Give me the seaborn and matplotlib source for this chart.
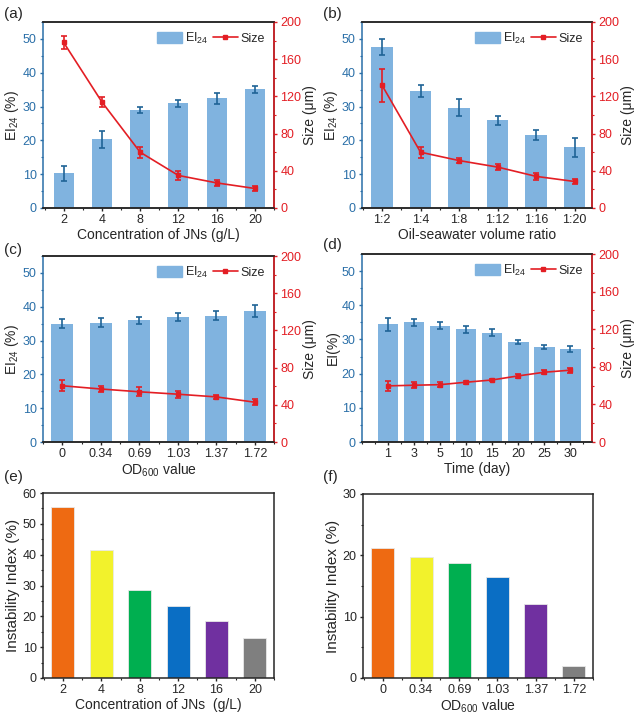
import numpy as np
import matplotlib
matplotlib.use("Agg")
import matplotlib.pyplot as plt
from matplotlib.ticker import MultipleLocator
from matplotlib.lines import Line2D
from matplotlib.patches import Patch
import seaborn as sns

# datos de cada panel
conc = ["2", "4", "8", "12", "16", "20"]
ei_conc = [10.3, 20.3, 29.0, 31.0, 32.4, 35.1]
ei_conc_err = [2.2, 2.6, 1.0, 1.0, 1.5, 1.1]
size_conc = [178, 114, 60, 35, 27, 21]
size_conc_err = [7, 5, 6, 5, 3, 3]

ratio = ["1:2", "1:4", "1:8", "1:12", "1:16", "1:20"]
ei_ratio = [47.6, 34.6, 29.7, 25.9, 21.7, 18.0]
ei_ratio_err = [2.3, 1.7, 2.5, 1.3, 1.5, 2.8]
size_ratio = [132, 60, 51, 44, 34, 28.5]
size_ratio_err = [17.5, 6, 3, 3, 3.5, 2.7]

od = ["0", "0.34", "0.69", "1.03", "1.37", "1.72"]
ei_od = [35.0, 35.3, 36.0, 37.0, 37.3, 38.7]
ei_od_err = [1.4, 1.4, 1.1, 1.2, 1.3, 1.7]
size_od = [60.5, 57, 54, 51.4, 48.5, 42.8]
size_od_err = [6, 3, 4.7, 3.6, 2, 3]

days = ["1", "3", "5", "10", "15", "20", "25", "30"]
ei_days = [34.4, 35.0, 34.0, 33.0, 32.0, 29.2, 27.7, 27.1]
ei_days_err = [1.8, 1.1, 1.0, 1.0, 1.0, 0.6, 0.6, 0.9]
size_days = [59.7, 60.4, 61.0, 63.6, 66.0, 70.3, 74.2, 76.4]
size_days_err = [5.7, 3, 3, 1.8, 1.4, 2.1, 2, 2.5]

inst_conc = [55.3, 41.4, 28.5, 23.3, 18.5, 13.0]
inst_od = [21.2, 19.8, 18.8, 16.4, 12.1, 2.0]
bar_colors = ["#EE6A12", "#F2F22C", "#00AF50", "#0A6EC4", "#7030A0", "#7F7F7F"]

sns.set_style("ticks")
plt.rcParams['font.family'] = ['Liberation Sans', 'DejaVu Sans']
plt.rcParams['mathtext.fontset'] = 'custom'
plt.rcParams['mathtext.rm'] = 'Liberation Sans'
plt.rcParams['mathtext.it'] = 'Liberation Sans:italic'
plt.rcParams['font.size'] = 8

BLUE_BAR = "#80B3DF"
BLUE = "#2A6FA8"
RED = "#E31E24"

fig = plt.figure(figsize=(6.38, 7.16), dpi=100)


def px_axes(l, r, t, b):
    return fig.add_axes([l / 638, 1 - b / 716, (r - l) / 638, (b - t) / 716])


def dual_panel(ax, cats, ei, ei_err, size, size_err, xlabel, ylabel, xlim, width):
    sns.barplot(x=cats, y=ei, color=BLUE_BAR, width=width, errorbar=None, ax=ax,
                linewidth=0, saturation=1)
    pos = np.arange(len(cats))
    ax.errorbar(pos, ei, yerr=ei_err, fmt='none', ecolor="#1F6396", elinewidth=1.2,
                capsize=2.2, capthick=1.2)
    ax.set_ylim(0, 55)
    ax.set_xlim(*xlim)
    ax.yaxis.set_major_locator(MultipleLocator(10))
    ax.yaxis.set_minor_locator(MultipleLocator(5))
    ax.xaxis.set_minor_locator(MultipleLocator(0.5))
    ax.tick_params(axis='y', which='both', colors=BLUE, labelsize=9, pad=2)
    ax.tick_params(axis='y', which='major', length=2.5, width=1)
    ax.tick_params(axis='y', which='minor', length=1.5, width=0.8)
    ax.tick_params(axis='x', which='major', length=2.5, width=1, labelsize=9, pad=2)
    ax.tick_params(axis='x', which='minor', length=1.5, width=0.8)
    ax.spines['left'].set_color(BLUE)
    for s in ax.spines.values():
        s.set_linewidth(1.1)
    ax.set_xlabel(xlabel, fontsize=10, labelpad=1)
    ax.set_ylabel(ylabel, fontsize=10, labelpad=1)

    ax2 = ax.twinx()
    ax2.errorbar(pos, size, yerr=size_err, color=RED, marker='s', markersize=3,
                 linewidth=1.2, elinewidth=1.2, capsize=2.2, capthick=1.2)
    ax2.set_ylim(0, 200)
    ax2.yaxis.set_major_locator(MultipleLocator(40))
    ax2.yaxis.set_minor_locator(MultipleLocator(20))
    ax2.tick_params(axis='y', which='both', colors=RED, labelsize=9, pad=2)
    ax2.tick_params(axis='y', which='major', length=2.5, width=1)
    ax2.tick_params(axis='y', which='minor', length=1.5, width=0.8)
    ax2.spines['right'].set_color(RED)
    ax2.spines['left'].set_visible(False)
    for s in ['right', 'top', 'bottom']:
        ax2.spines[s].set_linewidth(1.1)
    ax2.set_ylabel("Size (μm)", fontsize=10, labelpad=1)

    handles = [Patch(color=BLUE_BAR, label=r'EI$_{24}$'),
               Line2D([], [], color=RED, marker='s', markersize=2.5, lw=1.2, label='Size')]
    ax2.legend(handles=handles, loc='upper right', ncol=2, frameon=False, fontsize=9,
               handlelength=2.0, handleheight=1.0, columnspacing=0.35, handletextpad=0.25,
               borderaxespad=0.3)


def inst_panel(ax, cats, vals, ymax, xlabel):
    sns.barplot(x=cats, y=vals, hue=cats, palette=bar_colors, width=0.6, errorbar=None,
                legend=False, ax=ax, linewidth=0.6, edgecolor="#e8e8e8", saturation=1)
    ax.set_ylim(0, ymax)
    ax.set_xlim(-0.52, 5.5)
    ax.yaxis.set_major_locator(MultipleLocator(10))
    ax.yaxis.set_minor_locator(MultipleLocator(5))
    ax.xaxis.set_minor_locator(MultipleLocator(0.5))
    ax.tick_params(which='major', length=2.5, width=1, labelsize=9, pad=2)
    ax.tick_params(which='minor', length=1.5, width=0.8)
    for s in ax.spines.values():
        s.set_linewidth(1.1)
    ax.set_xlabel(xlabel, fontsize=10, labelpad=1)
    ax.set_ylabel("Instability Index (%)", fontsize=11, labelpad=2)


ax_a = px_axes(43, 274, 22, 208)
dual_panel(ax_a, conc, ei_conc, ei_conc_err, size_conc, size_conc_err,
           "Concentration of JNs (g/L)", r'EI$_{24}$ (%)', (-0.54, 5.5), 0.52)
ax_b = px_axes(362, 592, 22, 208)
dual_panel(ax_b, ratio, ei_ratio, ei_ratio_err, size_ratio, size_ratio_err,
           "Oil-seawater volume ratio", r'EI$_{24}$ (%)', (-0.52, 5.45), 0.56)
ax_c = px_axes(43, 274, 256, 442)
dual_panel(ax_c, od, ei_od, ei_od_err, size_od, size_od_err,
           r'OD$_{600}$ value', r'EI$_{24}$ (%)', (-0.5, 5.5), 0.56)
ax_d = px_axes(362, 592, 254, 442)
dual_panel(ax_d, days, ei_days, ei_days_err, size_days, size_days_err,
           "Time (day)", "EI(%)", (-1.0, 7.84), 0.8)

ax_e = px_axes(43, 274, 493, 678)
inst_panel(ax_e, conc, inst_conc, 60, "Concentration of JNs  (g/L)")
ax_f = px_axes(363, 593, 494, 678)
inst_panel(ax_f, od, inst_od, 30, r'OD$_{600}$ value')

for lab, x, y in [("(a)", 4, 14), ("(b)", 323, 14), ("(c)", 4, 250),
                  ("(d)", 323, 245), ("(e)", 4, 477), ("(f)", 323, 477)]:
    fig.text(x / 638, 1 - y / 716, lab, fontsize=11, va='center', ha='left')

plt.savefig("out.png", dpi=100)
